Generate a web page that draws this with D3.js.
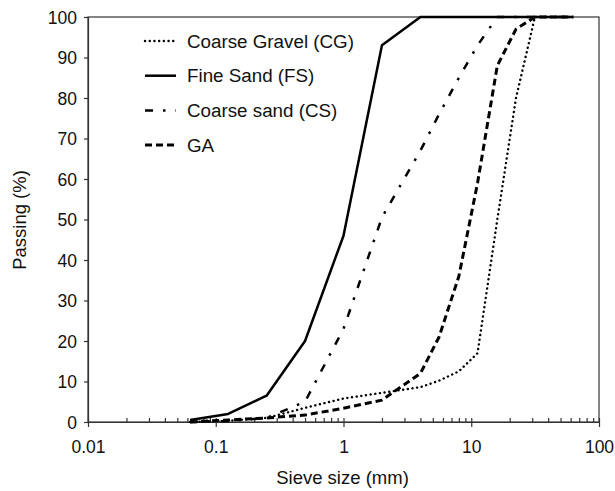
<!DOCTYPE html>
<html>
<head>
<meta charset="utf-8">
<script src="https://cdn.jsdelivr.net/npm/d3@7"></script>
<style>
  body { margin: 0; background: #fff; }
  svg text { font-family: "Liberation Sans", Arial, Helvetica, sans-serif; fill: #111; }
</style>
</head>
<body>
<div class="chart"></div>
<script>
// sieve sizes (mm) shared by every curve
var sieveSizes = [0.063, 0.125, 0.25, 0.5, 1, 2, 4, 5.6, 8, 11.2, 16, 22.4, 31.5, 63];

// percent passing
var coarseGravel = [0, 0.3, 1, 3.5, 5.8, 7.2, 8.6, 10.2, 12.5, 17, 50, 80, 100, 100];
var fineSand     = [0.5, 2, 6.5, 20, 46, 93, 100, 100, 100, 100, 100, 100, 100, 100];
var coarseSand   = [0, 0.2, 1, 5, 23, 50.5, 67, 76, 85, 93, 100, 100, 100, 100];
var gaMix        = [0, 0.5, 1, 1.7, 3.4, 5.4, 12, 21, 36, 59, 88, 97, 100, 100];

var seriesNames = ["Coarse Gravel (CG)", "Fine Sand (FS)", "Coarse sand (CS)", "GA"];

var xMajor = [0.01, 0.1, 1, 10, 100];
var xMajorLabels = ["0.01", "0.1", "1", "10", "100"];
var yTicks = [0, 10, 20, 30, 40, 50, 60, 70, 80, 90, 100];

var svgWidth = 615;
var svgHeight = 491;
var margin = {top: 17, right: 16, bottom: 69, left: 88};
var width = svgWidth - margin.left - margin.right;
var height = svgHeight - margin.top - margin.bottom;

var svg = d3.select(".chart")
    .append("svg")
    .attr("width", svgWidth)
    .attr("height", svgHeight);

var chartGroup = svg.append("g")
    .attr("transform", `translate(${margin.left}, ${margin.top})`);

var xLogScale = d3.scaleLog()
    .domain([0.01, 100])
    .range([0, width]);

var yLinearScale = d3.scaleLinear()
    .domain([0, 100])
    .range([height, 0]);

// minor ticks 2..9 in every decade, pointing inside
var xMinor = [];
xMajor.slice(0, -1).forEach(function (d) {
    for (var k = 2; k <= 9; k++) xMinor.push(d * k);
});

// frame
chartGroup.append("rect")
    .attr("x", 0)
    .attr("y", 0)
    .attr("width", width)
    .attr("height", height)
    .attr("fill", "none")
    .attr("stroke", "#333")
    .attr("stroke-width", 1.2);

// x axis: majors going down, with labels
var bottomAxis = d3.axisBottom(xLogScale)
    .tickValues(xMajor)
    .tickFormat(function (d, i) { return xMajorLabels[i]; })
    .tickSizeInner(5)
    .tickSizeOuter(0)
    .tickPadding(14);

var xAxisGroup = chartGroup.append("g")
    .attr("transform", `translate(0, ${height})`)
    .call(bottomAxis);

// x axis: minor + major ticks pointing up
var innerAxis = d3.axisBottom(xLogScale)
    .tickValues(xMinor.concat(xMajor))
    .tickFormat("")
    .tickSizeInner(-4)
    .tickSizeOuter(0);

var innerGroup = chartGroup.append("g")
    .attr("transform", `translate(0, ${height})`)
    .call(innerAxis);
innerGroup.select(".domain").remove();

// y axis
var leftAxis = d3.axisLeft(yLinearScale)
    .tickValues(yTicks)
    .tickSizeInner(4)
    .tickSizeOuter(0)
    .tickPadding(7);

var yAxisGroup = chartGroup.append("g")
    .call(leftAxis);

[xAxisGroup, innerGroup, yAxisGroup].forEach(function (g) {
    g.selectAll("path, line").attr("stroke", "#333").attr("stroke-width", 1.2);
    g.selectAll("text").style("font-size", "17.5px").attr("fill", "#111");
});
yAxisGroup.selectAll("text").attr("dy", "0.35em");

// line styles for each curve
var styles = [
    {values: coarseGravel, width: 2.4, dash: "0.1,4.6", cap: "round"},
    {values: fineSand, width: 2.5, dash: null, cap: "butt"},
    {values: coarseSand, width: 2.5, dash: "8,10,2.5,10", cap: "butt"},
    {values: gaMix, width: 3, dash: "7,4", cap: "butt"}
];

var line = d3.line()
    .x(function (d) { return xLogScale(d[0]); })
    .y(function (d) { return yLinearScale(d[1]); });

styles.forEach(function (s) {
    var pts = sieveSizes.map(function (x, i) { return [x, s.values[i]]; });
    chartGroup.append("path")
        .datum(pts)
        .attr("fill", "none")
        .attr("stroke", "#000")
        .attr("stroke-width", s.width)
        .attr("stroke-linecap", s.cap)
        .attr("stroke-linejoin", "round")
        .attr("stroke-dasharray", s.dash)
        .attr("d", line);
});

// legend
var legend = svg.append("g")
    .attr("transform", "translate(145, 41)");

styles.forEach(function (s, i) {
    var row = legend.append("g")
        .attr("transform", `translate(0, ${i * 34.7})`);
    row.append("line")
        .attr("x1", 0)
        .attr("x2", 31)
        .attr("y1", 0)
        .attr("y2", 0)
        .attr("stroke", "#000")
        .attr("stroke-width", s.width)
        .attr("stroke-linecap", s.cap)
        .attr("stroke-dasharray", s.dash);
    row.append("text")
        .attr("x", 42)
        .attr("y", 0)
        .attr("dy", "0.35em")
        .style("font-size", "18.8px")
        .text(seriesNames[i]);
});

// axis titles
svg.append("text")
    .attr("x", margin.left + xLogScale(1) - 1)
    .attr("y", 484)
    .attr("text-anchor", "middle")
    .style("font-size", "18.5px")
    .text("Sieve size (mm)");

svg.append("text")
    .attr("transform", `translate(26, 220) rotate(-90)`)
    .attr("text-anchor", "middle")
    .style("font-size", "18.5px")
    .text("Passing (%)");
</script>
</body>
</html>
